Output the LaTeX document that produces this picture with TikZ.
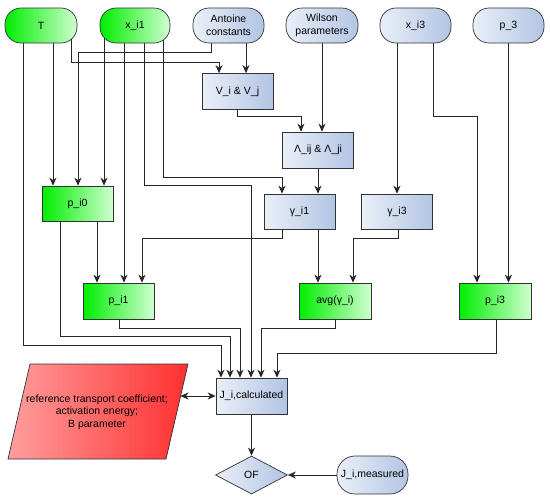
\documentclass[tikz,border=0pt]{standalone}
\usepackage{fontspec}
\setmainfont{Liberation Sans}
\usetikzlibrary{arrows.meta,shapes.geometric,backgrounds}
\definecolor{bluel}{RGB}{234,239,248}
\definecolor{blued}{RGB}{178,197,228}
\definecolor{greenl}{RGB}{208,255,208}
\definecolor{greend}{RGB}{0,238,0}
\definecolor{redl}{RGB}{255,158,158}
\definecolor{redd}{RGB}{255,48,48}
\definecolor{edge}{RGB}{50,50,50}
\begin{document}
\begin{tikzpicture}[x=1pt,y=-1pt,
  font=\fontsize{10.5}{12.6}\selectfont,
  base/.style={draw=edge, line width=0.7pt, inner sep=0pt, align=center, minimum width=71pt, minimum height=35pt},
  bluebox/.style={base, left color=bluel, right color=blued},
  greenbox/.style={base, left color=greend, right color=greenl},
  pill/.style={rounded corners=16pt},
  tip/.tip={Stealth[length=8pt,width=7pt,inset=2.5pt]},
  arr/.style={draw=black!85, line width=0.75pt, -tip},
  darr/.style={draw=black!85, line width=0.75pt, tip-tip}]
\useasboundingbox (0,0) rectangle (550,499);
% nodes
\node[greenbox,pill,minimum width=72pt] (T) at (41,25.5) {T};
\node[greenbox,pill,minimum width=70pt] (xi1) at (135,25.5) {x\_i1};
\node[bluebox,pill] (ant) at (228.5,25.5) {Antoine\\constants};
\node[bluebox,pill,minimum width=72pt] (wil) at (322,25.5) {Wilson\\parameters};
\node[bluebox,pill] (xi3) at (415.5,25.5) {x\_i3};
\node[bluebox,pill] (p3) at (508.5,25.5) {p\_3};
\node[bluebox,minimum height=36pt] (V) at (237.5,91.5) {V\_i \& V\_j};
\node[bluebox,minimum height=36pt] (L) at (318,150) {Λ\_ij \& Λ\_ji};
\node[bluebox] (g1) at (299.5,211.5) {γ\_i1};
\node[bluebox] (g3) at (397,211.5) {γ\_i3};
\node[greenbox] (pi0) at (77.5,203.5) {p\_i0};
\node[greenbox,minimum height=36pt] (pi1) at (118.5,301) {p\_i1};
\node[greenbox,minimum height=36pt,minimum width=72pt] (avg) at (335,301) {avg(γ\_i)};
\node[greenbox,minimum height=36pt,minimum width=72pt] (pi3) at (495,301) {p\_i3};
\node[bluebox,minimum height=36pt] (J) at (251.5,396) {J\_i,calculated};
\node[diamond,draw=edge,line width=0.7pt,left color=bluel,right color=blued,minimum width=72pt,minimum height=38pt,inner sep=0pt] (OF) at (251.5,475) {OF};
\node[bluebox,rounded corners=18pt,minimum height=38pt] (Jm) at (372.5,475) {J\_i,measured};
% red parallelogram
\coordinate (r1) at (30,364);
\coordinate (r2) at (188,364);
\coordinate (r3) at (166,459);
\coordinate (r4) at (8,459);
\path[draw=edge,line width=0.7pt,left color=redl,right color=redd] (r4) -- (r1) -- (r2) -- (r3) -- cycle;
\node[align=center] (red) at (97,412) {reference transport coefficient;\\activation energy;\\B parameter};
\coordinate (redR) at (180.5,396);
% connectors
\begin{scope}[on background layer]
\draw[arr] ([xshift=30pt]T.center) -- ++(0,36.5) -| ([xshift=-18.5pt]V.north);
\draw[arr] ([xshift=12pt]T.center) -- ([xshift=-24.5pt]pi0.north);
\draw[arr] ([xshift=-18pt]T.center) -- ++(0,319.5) -| ([xshift=-30.5pt]J.north);
\draw[arr] ([xshift=-17.5pt]ant.center) -- ++(0,26.5) -| ([xshift=0.5pt]pi0.north);
\draw[arr] ([xshift=17.5pt]ant.center) -- ([xshift=8.5pt]V.north);
\draw[arr] ([xshift=-31pt]xi1.center) -- ([xshift=26.5pt]pi0.north);
\draw[arr] ([xshift=-11pt]xi1.center) -- ([xshift=5.5pt]pi1.north);
\draw[arr] ([xshift=9pt]xi1.center) -- ++(0,159.5) -| ([xshift=-0.5pt]J.north);
\draw[arr] ([xshift=28pt]xi1.center) -- ++(0,151.5) -| ([xshift=-17.5pt]g1.north);
\draw[arr] ([xshift=-0.5pt]V.south) -- ++(0,6.5) -| ([xshift=-17pt]L.north);
\draw[arr] (wil.center) -- ([xshift=4pt]L.north);
\draw[arr] (L.south) -- ([xshift=18.5pt]g1.north);
\draw[arr] ([xshift=-18.5pt]xi3.center) -- (g3.north);
\draw[arr] ([xshift=17.5pt]xi3.center) -- ++(0,90.5) -| ([xshift=-18pt]pi3.north);
\draw[arr] (p3.center) -- ([xshift=13.5pt]pi3.north);
\draw[arr] ([xshift=-17.5pt]pi0.south) -- ++(0,115) -| ([xshift=-21.5pt]J.north);
\draw[arr] ([xshift=19.5pt]pi0.south) -- ([xshift=-21.5pt]pi1.north);
\draw[arr] ([xshift=-17.5pt]g1.south) -- ++(0,9) -| ([xshift=23.5pt]pi1.north);
\draw[arr] ([xshift=18.5pt]g1.south) -- ([xshift=-17pt]avg.north);
\draw[arr] ([xshift=1pt]g3.south) -- ++(0,9) -| ([xshift=18pt]avg.north);
\draw[arr] ([xshift=0.5pt]pi1.south) -- ++(0,9) -| ([xshift=-11.5pt]J.north);
\draw[arr] (avg.south) -- ++(0,9) -| ([xshift=9.5pt]J.north);
\draw[arr] ([xshift=1pt]pi3.south) -- ++(0,34) -| ([xshift=25.5pt]J.north);
\draw[darr] (redR) -- (J.west);
\draw[arr] (J.south) -- (OF.north);
\draw[arr] (Jm.west) -- (OF.east);
\end{scope}
\end{tikzpicture}
\end{document}
